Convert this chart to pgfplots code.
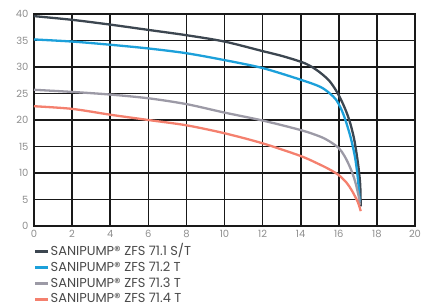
\documentclass[border=0pt]{standalone}
\usepackage{fontspec}
\setmainfont{Poppins}
\usepackage{pgfplots}
\pgfplotsset{compat=1.18}
\definecolor{cdark}{HTML}{3C4650}
\definecolor{cblue}{HTML}{1CA0DA}
\definecolor{cgray}{HTML}{9C9AA6}
\definecolor{cred}{HTML}{F4806E}
\definecolor{ctick}{HTML}{8E8E8E}
\definecolor{ctext}{HTML}{4A4A4A}
\begin{document}
\begin{tikzpicture}
\begin{axis}[
  scale only axis,
  width=381bp, height=212bp,
  xmin=0, xmax=20, ymin=0, ymax=40,
  xtick={0,2,...,20}, ytick={0,5,...,40},
  grid=major,
  grid style={black!90, line width=1.6bp},
  axis line style={black!90, line width=1.6bp},
  major tick length=0pt,
  tick label style={font=\fontsize{10}{11}\selectfont, text=ctick},
  /pgf/number format/assume math mode=true,
  yticklabel style={xshift=-2bp},
  xticklabel style={yshift=-1bp},
  legend cell align=left,
  legend style={at={(rel axis cs:0,0)}, anchor=north west, yshift=-18.5bp, xshift=0bp,
    draw=none, fill=none, inner sep=0pt, row sep=1.9bp,
    font=\fontsize{13}{14}\selectfont, text=ctext,
    nodes={inner sep=1bp, text height=9.5bp, text depth=2.5bp}},
  legend image code/.code={\draw[#1, line width=2.5bp] (0bp,0bp) -- (13bp,0bp);},
  every axis plot/.append style={line width=2.3bp, smooth, tension=0.5},
]
\addplot[cdark] coordinates {(0,39.6) (2,38.9) (4,38.0) (6,37.0) (8,36.0) (10,34.8) (12,33.0) (13,32.1) (14,31.0) (14.5,30.2) (15,29.0) (15.5,27.4) (15.9,25.3) (16.25,22.8) (16.55,20) (16.8,16.5) (17,12) (17.12,8) (17.15,3.7)};
\addlegendentry{SANIPUMP® ZFS 71.1 S/T}
\addplot[cblue] coordinates {(0,35.2) (2,34.8) (4,34.2) (6,33.5) (8,32.6) (10,31.3) (12,29.8) (14,27.6) (15,26.3) (15.5,25.1) (15.9,23.6) (16.25,21) (16.6,17) (16.85,13) (17.0,9) (17.08,5.5) (17.1,4.5)};
\addlegendentry{SANIPUMP® ZFS 71.2 T}
\addplot[cgray] coordinates {(0,25.7) (2,25.3) (4,24.8) (6,24.1) (8,23.0) (10,21.4) (12,19.9) (14,18.1) (15,16.9) (15.5,16.0) (16,14.7) (16.3,13.2) (16.6,11) (16.85,8.5) (17.05,5.5) (17.1,4)};
\addlegendentry{SANIPUMP® ZFS 71.3 T}
\addplot[cred] coordinates {(0,22.6) (2,22.1) (4,21.0) (6,20.0) (8,19.0) (10,17.5) (12,15.6) (14,13.2) (15,11.6) (15.5,10.7) (16,9.6) (16.4,8.2) (16.7,6.6) (17,4.5) (17.15,2.8)};
\addlegendentry{SANIPUMP® ZFS 71.4 T}
\node[anchor=base east, font=\bfseries\fontsize{12}{13}\selectfont, text=ctext, inner sep=0pt] at (rel axis cs:1,0) [yshift=-28bp, xshift=4bp] {Vazão (m³/h)};
\end{axis}
\pgfresetboundingbox
\path (-34bp,-82bp) rectangle (387bp,226bp);
\end{tikzpicture}
\end{document}
